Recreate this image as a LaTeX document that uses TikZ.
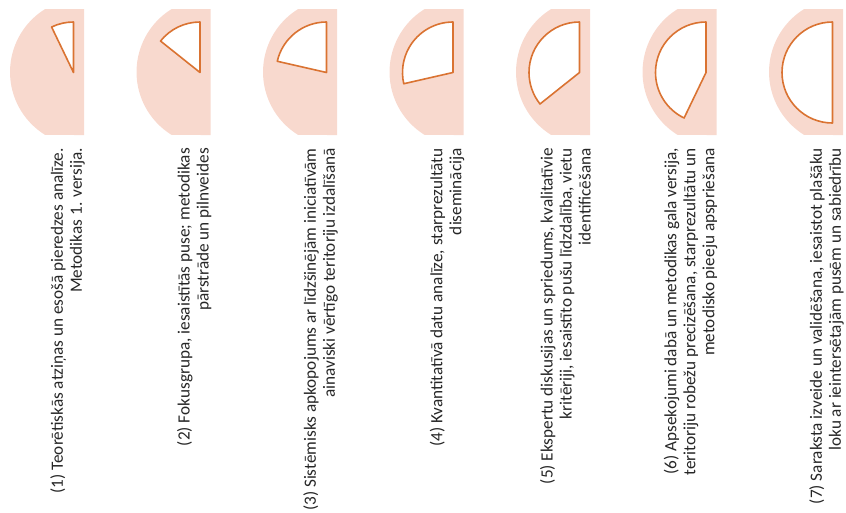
\documentclass[tikz,border=0pt]{standalone}
\usepackage{fontspec}
\setmainfont{Carlito}
\usepackage{xcolor}
\usepackage{tikz}
\definecolor{phasebg}{RGB}{248,217,206}
\definecolor{phaseln}{RGB}{218,115,50}
\tikzset{
  halfdisk/.style={fill=phasebg, draw=none},
  slice/.style={draw=phaseln, line width=1.6pt, fill=white, line join=round},
  caption/.style={rotate=90, anchor=south east, align=right, inner sep=0pt,
    text=black!85, font=\fontsize{17.2}{19}\selectfont},
}

\begin{document}
\begin{tikzpicture}[x=1pt,y=1pt]
  \useasboundingbox (0,0) rectangle (846,-512);
  % half disks and progress slices
  \foreach \k in {1,...,7} {
    \pgfmathsetmacro{\cx}{84+126.5*(\k-1)}
    \fill[halfdisk] (\cx,-9) -- ++(-38.8,0) arc[start angle=121.65, end angle=238.35, radius=74] -- (\cx,-135) -- cycle;
    \draw[slice] (\cx-10.5,-72.5) -- ++(0,50.5) arc[start angle=90, end angle=90+\k*180/7, radius=50.5] -- cycle;
  }
  % step captions
  \node[caption] (t1) at (85,-148) {(1) Teorētiskās atziņas un esošā pieredzes analīze.\\Metodikas 1. versija.};
  \node[caption] (t2) at (211.5,-148) {(2) Fokusgrupa, iesaistītās puse; metodikas\\pārstrāde un pilnveides};
  \node[caption] (t3) at (338,-148) {(3) Sistēmisks apkopojums ar līdzšinējām iniciatīvām\\ainaviski vērtīgo teritoriju izdalīšanā};
  \node[caption] (t4) at (464.5,-148) {(4) Kvantitatīvā datu analīze, starprezultātu\\diseminācija};
  \node[caption] (t5) at (591,-148) {(5) Ekspertu diskusijas un spriedums, kvalitatīvie\\kritēriji, iesaistīto pušu līdzdalība, vietu\\identificēšana};
  \node[caption] (t6) at (717.5,-148) {(6) Apsekojumi dabā un metodikas gala versija,\\teritoriju robežu precizēšana, starprezultātu un\\metodisko pieeju apspriešana};
  \node[caption] (t7) at (844,-148) {(7) Saraksta izveide un validēšana, iesaistot plašāku\\loku ar ieintersētajām pusēm un sabiedrību};
\end{tikzpicture}
\end{document}
